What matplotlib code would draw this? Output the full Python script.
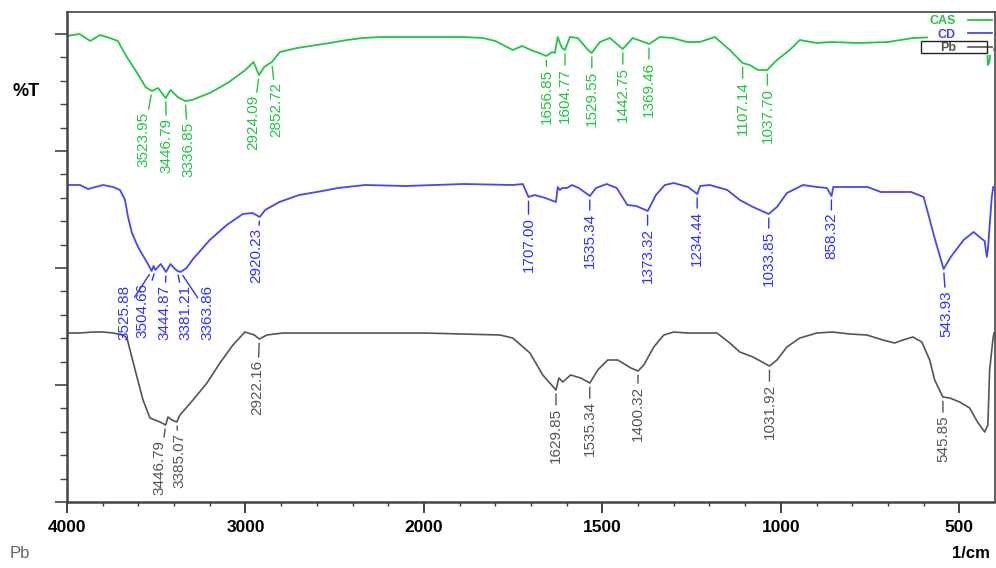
import numpy as np
import matplotlib
matplotlib.use('Agg')
import matplotlib.pyplot as plt
from matplotlib.ticker import FixedLocator, MultipleLocator, AutoMinorLocator, NullFormatter
from matplotlib.patches import Rectangle

plt.rcParams['font.family'] = ['Liberation Sans', 'DejaVu Sans']

# ---- spectra (wavenumber 1/cm, stacked %T in plot units) ----
cas_wn = [4000, 3930, 3870, 3815, 3760, 3715, 3665, 3610, 3560, 3524, 3490, 3447, 3420, 3380, 3337,
          3300, 3200, 3100, 3000, 2955, 2924, 2895, 2870, 2852, 2807, 2711, 2527, 2431, 2342, 2247,
          2062, 1983, 1891, 1835, 1800, 1751, 1725, 1700, 1670, 1657, 1641, 1633, 1625, 1619, 1613,
          1605, 1591, 1569, 1540, 1530, 1507, 1479, 1443, 1415, 1369, 1339, 1303, 1263, 1227, 1185,
          1143, 1107, 1087, 1064, 1050, 1038, 1011, 975, 947, 900, 860, 780, 700, 630, 560,
          480, 430, 423, 420, 416, 410, 405]
cas_t = [466, 468, 461, 467, 464, 461, 445, 430, 415, 411, 414, 404, 412, 405, 401,
         402, 409, 419, 432, 440, 427, 435, 438, 440, 450, 454, 459, 462, 464, 465,
         465, 465, 465, 464, 461, 452, 456, 452, 448, 446, 450, 449, 465, 459, 454,
         452, 465, 464, 452, 449, 460, 464, 453, 464, 458, 465, 464, 460, 460, 465,
         452, 439, 437, 432, 432, 432, 442, 452, 462, 459, 460, 459, 460, 464, 465,
         464, 466, 467, 437, 440, 457, 452]

cd_wn = [4000, 3927, 3882, 3798, 3742, 3703, 3675, 3658, 3636, 3602, 3563, 3540, 3526, 3515, 3505,
         3475, 3445, 3420, 3400, 3381, 3364, 3330, 3294, 3200, 3105, 3015, 2960, 2920, 2890, 2810,
         2700, 2600, 2480, 2330, 2100, 1890, 1750, 1723, 1707, 1690, 1660, 1630, 1625, 1619, 1613,
         1599, 1585, 1566, 1535, 1518, 1488, 1460, 1430, 1405, 1373, 1350, 1325, 1300, 1260, 1234,
         1226, 1199, 1150, 1115, 1078, 1034, 1011, 983, 938, 899, 871, 858, 853, 757, 720,
         635, 600, 590, 570, 544, 524, 488, 460, 440, 429, 423, 420, 409, 405]
cd_t = [317, 317, 313, 317, 315, 312, 302, 285, 269, 255, 243, 236, 231, 236, 232,
        238, 230, 238, 234, 231, 230, 234, 243, 262, 277, 288, 289, 285, 292, 300,
        307, 310, 314, 317, 316, 318, 317, 318, 305, 307, 304, 300, 315, 312, 314,
        314, 317, 314, 306, 314, 318, 314, 297, 296, 291, 307, 317, 319, 315, 308,
        316, 317, 312, 302, 295, 288, 295, 309, 317, 315, 314, 306, 315, 315, 310,
        310, 305, 292, 265, 233, 245, 262, 270, 264, 261, 245, 252, 305, 315]

pb_wn = [4000, 3927, 3854, 3798, 3742, 3686, 3664, 3647, 3608, 3574, 3535, 3507, 3479, 3447, 3434,
         3412, 3385, 3367, 3294, 3216, 3143, 3070, 3003, 2950, 2922, 2880, 2790, 2640, 2360, 2000,
         1787, 1751, 1703, 1667, 1630, 1622, 1611, 1589, 1561, 1535, 1513, 1485, 1457, 1420, 1400,
         1384, 1356, 1328, 1300, 1263, 1179, 1143, 1115, 1078, 1032, 1011, 983, 947, 899, 855,
         807, 759, 714, 681, 658, 630, 605, 583, 569, 546, 527, 499, 471, 449, 429,
         420, 415, 406, 403]
pb_t = [169, 169, 170, 170, 169, 167, 164, 152, 125, 102, 84, 82, 80, 77, 85,
        82, 80, 87, 102, 119, 139, 157, 170, 167, 163, 167, 169, 169, 169, 169,
        167, 164, 149, 127, 112, 124, 120, 127, 124, 119, 132, 142, 142, 134, 131,
        137, 155, 167, 170, 169, 169, 159, 150, 145, 136, 142, 155, 164, 169, 170,
        168, 167, 162, 159, 162, 165, 160, 142, 122, 105, 104, 100, 94, 80, 70,
        77, 132, 162, 169]

# ---- peak labels ----
cas_peaks = [3523.95, 3446.79, 3336.85, 2924.09, 2852.72, 1656.85, 1604.77, 1529.55,
             1442.75, 1369.46, 1107.14, 1037.70]
cd_peaks = [3525.88, 3504.66, 3444.87, 3381.21, 3363.86, 2920.23, 1707.00, 1535.34,
            1373.32, 1234.44, 1033.85, 858.32, 543.93]
pb_peaks = [3446.79, 3385.07, 2922.16, 1629.85, 1535.34, 1400.32, 1031.92, 545.85]

series_names = ['CAS', 'CD', 'Pb']
x_major = [4000, 3000, 2000, 1500, 1000, 500]

green = '#22c443'
blue = '#4646f5'
blue_txt = '#3030ff'
gray = '#555555'

# label placement (dx px, drop px below the curve)
cas_place = {3523.95: (-9, 21), 3446.79: (1, 20), 3336.85: (3, 21), 2924.09: (-6, 20),
             2852.72: (5, 20), 1656.85: (0, 13)}
cd_place = {3525.88: (-27, 14), 3504.66: (-13, 13), 3444.87: (-2, 13), 3381.21: (8, 14),
            3363.86: (27, 13), 2920.23: (-3, 11), 1707.00: (0, 20), 543.93: (3, 21)}
pb_place = {3446.79: (-6, 15), 3385.07: (3, 11), 2922.16: (-2, 21), 1400.32: (0, 15)}


def fwd(x):
    x = np.asarray(x, dtype=float)
    return np.where(x >= 2000, (x - 2000) / 1000.0, (x - 2000) / 500.0)


def inv(y):
    y = np.asarray(y, dtype=float)
    return np.where(y >= 0, 2000 + 1000.0 * y, 2000 + 500.0 * y)


PT = 0.72  # points per pixel at dpi 100


def label_peaks(ax, wn, t, peaks, color, place, default_drop=17):
    wn = np.asarray(wn, float)[::-1]
    t = np.asarray(t, float)[::-1]
    for p in peaks:
        yp = np.interp(p, wn, t)
        dx, drop = place.get(p, (0, default_drop))
        ax.annotate('{0:.2f}'.format(p), xy=(p, yp), xytext=(dx * PT, -drop * PT),
                    textcoords='offset points', rotation=90, ha='center', va='top',
                    fontsize=11, color=color, zorder=4,
                    arrowprops=dict(arrowstyle='-', color=color, lw=1.0, shrinkA=0, shrinkB=3))


fig = plt.figure(figsize=(9.96, 5.68), dpi=100)
ax = fig.add_axes([67 / 996, 1 - 502 / 568, (995 - 67) / 996, (502 - 12) / 568])

ax.set_xscale('function', functions=(fwd, inv))

l1, = ax.plot(cas_wn, cas_t, color=green, lw=1.3, label=series_names[0])
l2, = ax.plot(cd_wn, cd_t, color=blue, lw=1.3, label=series_names[1])
l3, = ax.plot(pb_wn, pb_t, color=gray, lw=1.2, label=series_names[2])

label_peaks(ax, cas_wn, cas_t, cas_peaks, green, cas_place, 18)
label_peaks(ax, cd_wn, cd_t, cd_peaks, blue_txt, cd_place, 17)
label_peaks(ax, pb_wn, pb_t, pb_peaks, gray, pb_place, 18)

ax.set_xlim(4000, 400)
ax.set_ylim(0, 490)

ax.xaxis.set_major_locator(FixedLocator(x_major))
ax.xaxis.set_minor_locator(FixedLocator(list(range(3800, 2000, -200)) + list(range(1900, 400, -100))))
ax.xaxis.set_minor_formatter(NullFormatter())
ax.set_xticklabels([str(v) for v in x_major], fontsize=12.5, fontweight='bold')

ax.yaxis.set_major_locator(MultipleLocator(117))
ax.yaxis.set_minor_locator(AutoMinorLocator(5))
ax.tick_params(axis='y', which='both', labelleft=False, direction='out', color='#444444')
ax.tick_params(axis='y', which='major', length=9, width=1.2)
ax.tick_params(axis='y', which='minor', length=5, width=1.0)
ax.tick_params(axis='x', which='major', length=8, width=1.3, direction='out', color='#333333', pad=5)
ax.tick_params(axis='x', which='minor', length=3, width=1.0, direction='out', color='#333333')

for name, sp in ax.spines.items():
    sp.set_color('#444444')
    sp.set_linewidth(1.8 if name in ('left', 'bottom') else 1.2)

leg = ax.legend(handles=[l1, l2, l3], loc='upper right', markerfirst=False, labelcolor='linecolor',
                frameon=True, facecolor='white', edgecolor='none', framealpha=1, fancybox=False,
                prop={'size': 9, 'weight': 'bold'}, handlelength=1.9, handletextpad=1.0,
                labelspacing=0.12, borderpad=0.1, borderaxespad=0.15)
leg.set_zorder(5)
ax.add_patch(Rectangle((0.920, 0.916), 0.071, 0.025, transform=ax.transAxes, fill=False,
                       edgecolor='#222222', lw=1.0, zorder=6, clip_on=False))

fig.text(26 / 996, 1 - 91 / 568, '%T', fontsize=13, fontweight='bold', ha='center', va='center')
fig.text(10 / 996, 1 - 553 / 568, 'Pb', fontsize=12, color='#666666', ha='left', va='center')
fig.text(990 / 996, 1 - 553 / 568, '1/cm', fontsize=12, fontweight='bold', ha='right', va='center')

fig.savefig('out.png', dpi=100)
